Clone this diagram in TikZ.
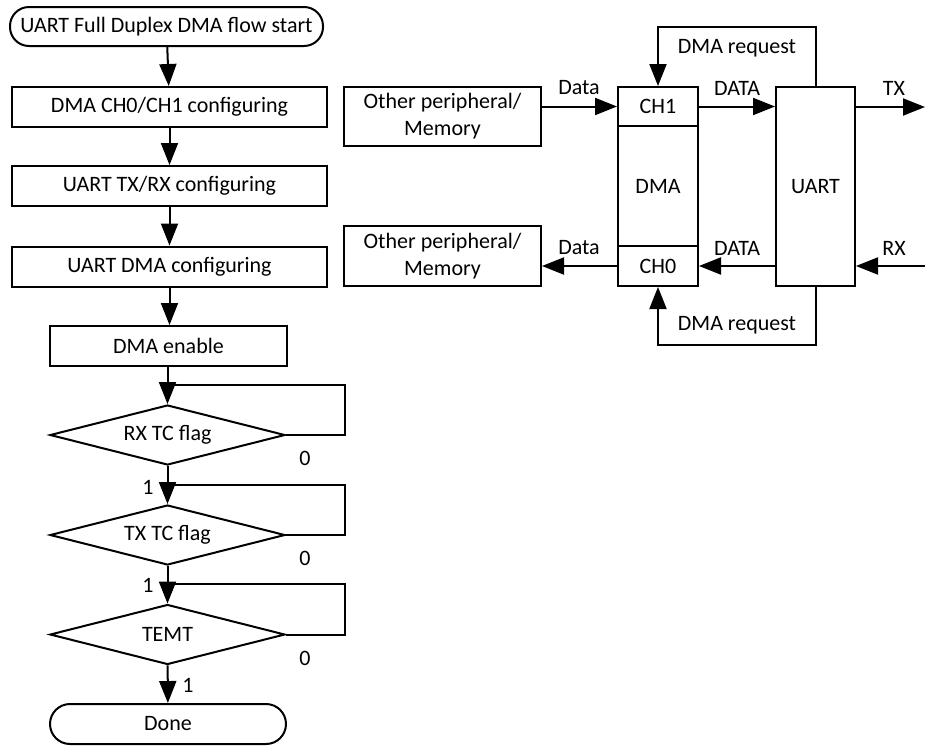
\documentclass[tikz,border=0pt]{standalone}
\usepackage{fontspec}
\setmainfont{Carlito}
\usetikzlibrary{arrows.meta,shapes.geometric}
\begin{document}
\begin{tikzpicture}[x=1pt,y=-1pt,
  every node/.style={font=\fontsize{22}{27}\selectfont},
  line/.style={line width=2pt},
  arr/.style={line width=2pt, -{Triangle[length=22pt,width=17pt]}},
  stepbox/.style={draw, line width=2pt, rectangle, inner sep=0pt, minimum width=315pt, minimum height=40pt},
  term/.style={draw, line width=2pt, rectangle, rounded corners=19pt, inner sep=0pt, minimum height=39pt},
  test/.style={draw, line width=2pt, diamond, aspect=4, inner sep=0pt, minimum width=235pt, minimum height=60pt},
  block/.style={draw, line width=2pt, rectangle, inner sep=0pt, align=center},
  lbl/.style={inner sep=0pt}]
\useasboundingbox (0,0) rectangle (925,745);

% ---- flow chart ----
\node[term, minimum width=313pt] (start) at (166.5,26.5) {UART Full Duplex DMA flow start};
\node[stepbox] (b1) at (169.5,107) {DMA CH0/CH1 configuring};
\node[stepbox] (b2) at (169.5,186) {UART TX/RX configuring};
\node[stepbox] (b3) at (169.5,266.5) {UART DMA configuring};
\node[stepbox, minimum width=237pt] (b4) at (168.5,346) {DMA enable};
\node[test] (d1) at (167.5,435) {RX TC flag};
\node[test] (d2) at (167.5,535) {TX TC flag};
\node[test] (d3) at (167.5,634.5) {TEMT};
\node[term, minimum width=236pt, minimum height=40pt, rounded corners=20pt] (done) at (168,724) {Done};

\draw[arr] (start) -- (b1);
\draw[arr] (b1) -- (b2);
\draw[arr] (b2) -- (b3);
\draw[arr] (b3) -- (b4.north -| b3.south);
\draw[arr] (b4.south -| d1.north) -- (d1.north);
\draw[arr] (d1) -- (d2);
\draw[arr] (d2) -- (d3);
\draw[arr] (d3) -- (done);

% wait loops back onto the main line
\coordinate (r1) at (345,385);
\coordinate (r2) at (345,485);
\coordinate (r3) at (345,584);
\draw[line] (d1.east) -| (r1) -- (r1 -| d1.north);
\draw[line] (d2.east) -| (r2) -- (r2 -| d2.north);
\draw[line] (d3.east) -| (r3) -- (r3 -| d3.north);

\node[lbl] (z1) at (305,458) {0};
\node[lbl] (z2) at (305,558) {0};
\node[lbl] (z3) at (305,658) {0};
\node[lbl] (o1) at (148,487) {1};
\node[lbl] (o2) at (148,585) {1};
\node[lbl] (o3) at (188,685) {1};

% ---- DMA / UART block diagram ----
\node[block, minimum width=197pt, minimum height=59pt] (op1) at (442.5,116.5) {Other peripheral/\\Memory};
\node[block, minimum width=197pt, minimum height=60pt] (op2) at (442.5,256) {Other peripheral/\\Memory};
\node[block, minimum width=80pt, minimum height=39pt] (ch1) at (658,106.5) {CH1};
\node[block, minimum width=80pt, minimum height=120pt] (dma) at (658,186) {DMA};
\node[block, minimum width=80pt, minimum height=40pt] (ch0) at (658,266) {CH0};
\node[block, minimum width=79pt, minimum height=199pt] (uart) at (815.5,186.5) {UART};

\coordinate (tx) at (925,107);
\coordinate (rx) at (925,266);
\coordinate (rq1) at (815.5,27);
\coordinate (rq0) at (815.5,345);

\draw[arr] (op1.east |- ch1.west) -- (ch1.west);
\draw[arr] (ch0.west) -- (op2.east |- ch0.west);
\draw[arr] (ch1.east) -- (uart.west |- ch1.east);
\draw[arr] (uart.west |- ch0.east) -- (ch0.east);
\draw[arr] (uart.east |- tx) -- (tx);
\draw[arr] (rx) -- (uart.east |- rx);
\draw[arr] (uart.north) -- (rq1) -| (ch1.north);
\draw[arr] (uart.south) -- (rq0) -| (ch0.south);

\node[lbl] (l1) at (579,88) {Data};
\node[lbl] (l2) at (579,248) {Data};
\node[lbl] (l3) at (737,88) {DATA};
\node[lbl] (l4) at (737,248) {DATA};
\node[lbl] (l5) at (894,88) {TX};
\node[lbl] (l6) at (894,248) {RX};
\node[lbl] (l7) at (737,48) {DMA request};
\node[lbl] (l8) at (737,325) {DMA request};
\end{tikzpicture}
\end{document}
